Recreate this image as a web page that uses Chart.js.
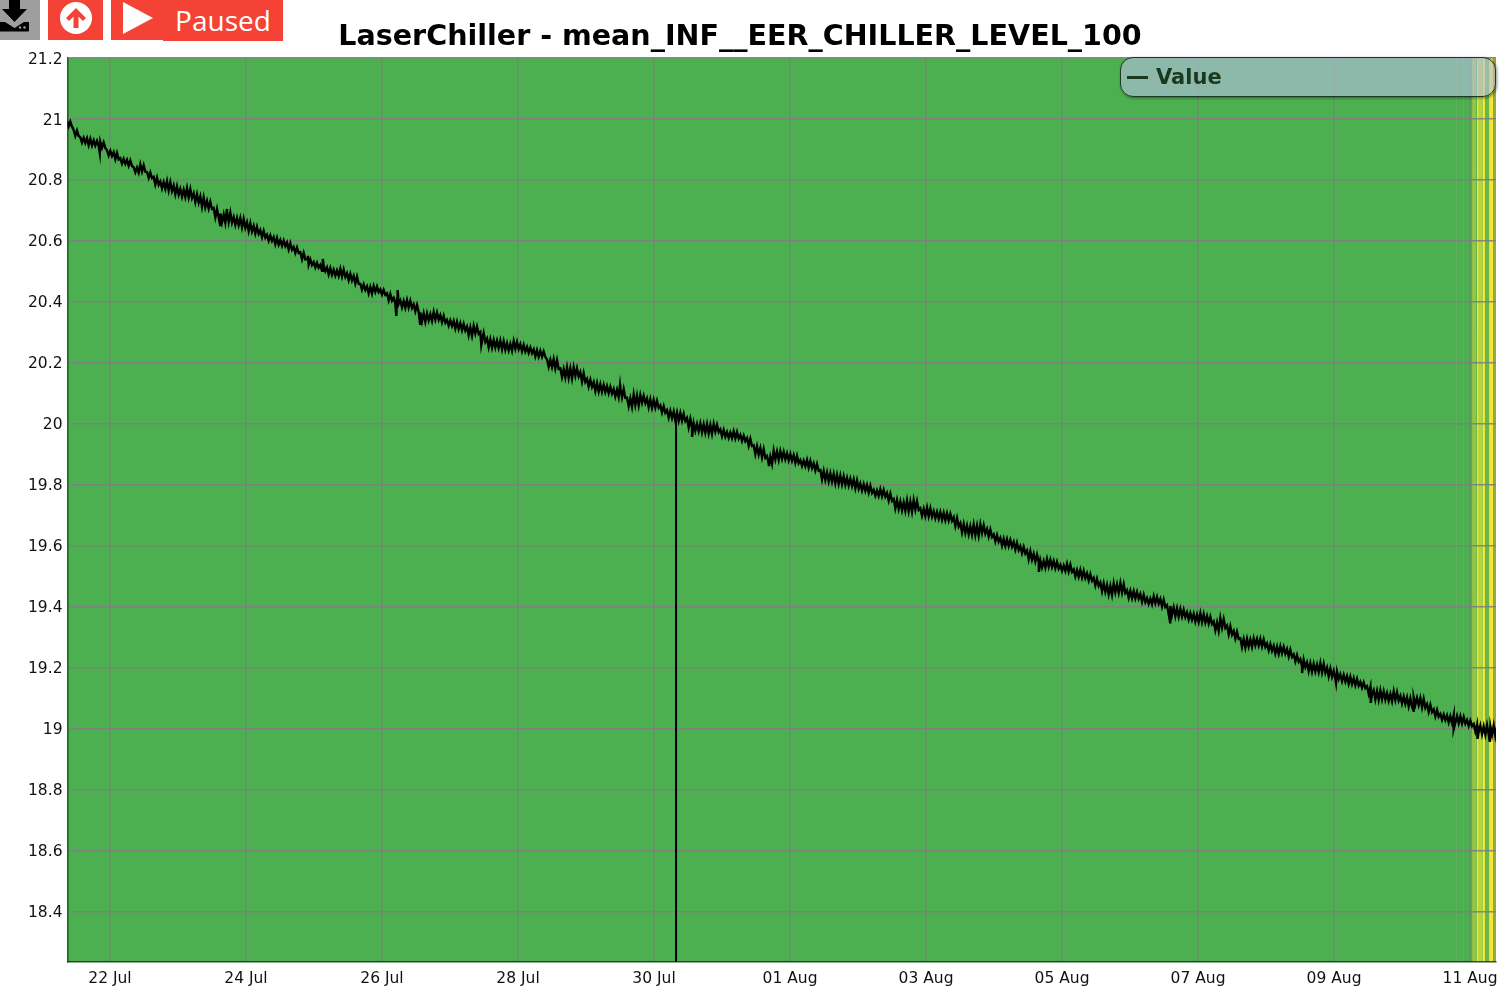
<!DOCTYPE html>
<html><head><meta charset="utf-8">
<script src="https://cdn.jsdelivr.net/npm/chart.js@4"></script>
<style>
html,body{margin:0;padding:0;background:#fff;width:1507px;height:1006px;overflow:hidden;font-family:"DejaVu Sans",sans-serif}
#wrap{position:relative;width:1507px;height:1006px}
canvas{position:absolute;left:0;top:0}
.btn{position:absolute;top:0;height:40px}
#title{position:absolute;left:240px;width:1000px;top:15px;text-align:center;font:bold 28.55px "DejaVu Sans",sans-serif;color:#000;white-space:nowrap;line-height:41px}
#paused{position:absolute;left:163px;top:0;width:120px;height:41px;background:#f44336;color:#fff;font:28px/41px "Open Sans",sans-serif;text-align:center}
#legend{position:absolute;left:1120px;top:57px;width:374px;height:38px;border:1px solid #1c3a20;border-radius:13px;background:rgba(185,192,230,.6);box-shadow:1px 1px 3px rgba(0,0,0,.45);color:#1a3a20;font:bold 21px/39px "DejaVu Sans",sans-serif}
#legend i{position:absolute;left:6px;top:18px;width:21px;height:3px;background:#1a3a20}
#legend span{position:absolute;left:35px;top:0}
</style></head><body>
<div id="wrap">
<canvas id="c" width="1507" height="1006"></canvas>
<div class="btn" style="left:0;width:40px;background:#9e9e9e"><svg width="40" height="40"><path d="M9 0h11v9h7L14.500 22 2 9h7z" fill="#000"/><path d="M0 22h5l9.500 6 9.500-6h5v8.500a1 1 0 0 1-1 1H0z" fill="#000"/><circle cx="20" cy="27.500" r="1.200" fill="#9e9e9e"/><circle cx="24.500" cy="27.500" r="1.200" fill="#9e9e9e"/></svg></div>
<div class="btn" style="left:48px;width:55px;background:#f44336"><svg width="55" height="40"><circle cx="28" cy="18" r="16" fill="#fff"/><path d="M28 8l-10 10 3 3 4.500-4.500V28h5V16.500L35 21l3-3z" fill="#f44336"/></svg></div>
<div class="btn" style="left:111px;width:60px;background:#f44336"><svg width="60" height="40"><path d="M12 2l30 16-30 16z" fill="#fff"/></svg></div>
<div id="paused">Paused</div>
<div id="title">LaserChiller - mean_INF__EER_CHILLER_LEVEL_100</div>
<div id="legend"><i></i><span>Value</span></div>
</div>
<script>
// Axis
const xTickDays = [0,2,4,6,8,10,12,14,16,18,20];
const xTickLabels = ['22 Jul','24 Jul','26 Jul','28 Jul','30 Jul','01 Aug','03 Aug','05 Aug','07 Aug','09 Aug','11 Aug'];
const yTicks = [18.4,18.6,18.8,19,19.2,19.4,19.6,19.8,20,20.2,20.4,20.6,20.8,21,21.2];
const xMin = -0.625, xMax = 20.382, yMin = 18.234, yMax = 21.2018;

// Trace centre, one reading about every 2.35 h
const firstSampleDay = -0.6324, sampleStep = 0.09804;
const traceCentre = [
20.984,20.954,20.931,20.925,20.921,20.915,20.888,20.879,20.862,20.856,20.833,20.839,20.816,20.797,20.783,20.780,20.767,20.757,20.757,20.741,20.728,20.718,20.692,20.675,20.678,20.665,20.659,20.646,20.636,20.623,20.610,20.600,20.593,20.583,20.570,20.551,
20.531,20.521,20.511,20.501,20.495,20.495,20.482,20.472,20.449,20.439,20.442,20.432,20.416,20.403,20.393,20.393,20.380,20.350,20.350,20.354,20.344,20.331,20.324,20.318,20.304,20.308,20.285,20.265,20.262,20.258,20.252,20.258,20.249,20.242,20.232,20.229,
20.199,20.196,20.167,20.167,20.170,20.153,20.134,20.121,20.117,20.111,20.101,20.101,20.071,20.078,20.081,20.068,20.065,20.048,20.032,20.025,20.022,20.003,19.989,19.986,19.983,19.986,19.970,19.963,19.963,19.953,19.940,19.914,19.904,19.881,19.897,19.897,
19.891,19.884,19.871,19.868,19.858,19.832,19.825,19.819,19.815,19.809,19.802,19.792,19.786,19.773,19.773,19.760,19.737,19.730,19.730,19.733,19.710,19.710,19.701,19.697,19.694,19.678,19.658,19.651,19.651,19.655,19.642,19.625,19.612,19.609,19.599,19.586,
19.569,19.560,19.540,19.543,19.537,19.527,19.527,19.510,19.507,19.497,19.481,19.464,19.455,19.461,19.461,19.441,19.438,19.428,19.418,19.422,19.412,19.389,19.382,19.379,19.369,19.363,19.363,19.356,19.336,19.346,19.323,19.307,19.281,19.281,19.284,19.281,
19.267,19.258,19.258,19.248,19.231,19.215,19.202,19.199,19.199,19.185,19.176,19.166,19.159,19.153,19.143,19.126,19.110,19.110,19.103,19.107,19.094,19.087,19.090,19.084,19.067,19.051,19.038,19.031,19.031,19.028,19.018,19.002,18.995,18.995,18.992];

// Half-thickness of the noisy band at each reading, in thousandths of a unit
const traceSwing = [
9,10,9,12,9,10,9,12,9,10,9,12,10,13,12,16,15,13,16,15,18,13,16,15,18,13,16,15,13,12,10,12,10,12,10,12,
10,9,10,12,10,13,12,13,10,12,10,9,12,10,12,13,12,15,12,13,12,10,13,12,15,13,16,15,13,15,12,13,12,10,12,10,
13,16,15,18,15,16,13,15,13,12,13,16,15,18,13,15,13,12,13,15,13,16,13,15,16,13,12,10,12,10,13,15,16,13,15,13,
12,13,10,13,12,16,15,16,15,13,15,12,13,10,12,13,16,15,18,16,13,15,12,13,12,15,16,15,18,15,13,12,13,12,13,12,
15,13,12,13,12,10,13,12,13,12,13,15,16,15,16,13,12,13,10,12,13,16,15,13,12,13,15,13,15,16,15,13,15,13,12,13,
12,13,12,13,12,13,15,13,16,15,13,12,13,12,10,13,16,15,13,15,13,15,13,16,13,12,10,12,13,12,10,13,15,16,18];
// How far each of the four sub-readings sits towards the band's edge
const swingPattern = [1,-0.9,0.8,-1];

// Isolated excursions: [day after 22 Jul, value]
const spikeDays   = [-0.15,1.62,1.72,2.91,3.13,4.21,4.23,4.56,5.46,7.50,8.56,9.69,13.66,15.59,17.53,18.03,18.54,19.17,19.76,20.11,20.29];
const spikeValues = [20.888,20.652,20.705,20.551,20.541,20.354,20.439,20.328,20.258,20.127,19.957,19.861,19.514,19.349,19.182,19.150,19.084,19.058,18.998,18.966,18.956];
// The single dropout on 30 Jul, running off the bottom of the plot
const dropoutDay = 8.324, dropoutFrom = 20.012, dropoutTo = 17.9;

// Status bands behind the trace
const baseGreen = '#4caf50';
const bandStarts = [19.79,19.89,20.03,20.09,20.10,20.13,20.19,20.22,20.28,20.34];
const bandEnds   = [19.81,19.91,20.09,20.10,20.13,20.19,20.22,20.28,20.34,20.382];
const bandColours = ['#5cb357','#5cb357','#98c444','#c4d63f','#f2e636','#b5d43f','#f5e838','#68b64e','#f3e638','#9aa83c'];

const tracePoints = [];
traceCentre.forEach((c,i)=>{
  const d = firstSampleDay + sampleStep*i, s = traceSwing[i]/1000;
  swingPattern.forEach((p,k)=>tracePoints.push({x:d+sampleStep*k/swingPattern.length,y:c+s*p}));
});
spikeDays.forEach((d,i)=>tracePoints.push({x:d,y:spikeValues[i]}));
tracePoints.sort((a,b)=>a.x-b.x);

const bandSet = (a,b,colour)=>({type:'line',data:[{x:a,y:yMax},{x:b,y:yMax}],fill:'start',backgroundColor:colour,borderWidth:0,pointRadius:0,tension:0});

new Chart(document.getElementById('c'),{
  type:'line',
  data:{datasets:[
    {label:'Value',data:tracePoints,borderColor:'#000',borderWidth:2.4,borderJoinStyle:'miter',pointRadius:0,fill:false,tension:0},
    {label:'Dropout',data:[{x:dropoutDay,y:dropoutFrom},{x:dropoutDay,y:dropoutTo}],borderColor:'#000',borderWidth:2,pointRadius:0,fill:false,tension:0},
    ...bandStarts.map((a,i)=>bandSet(a,bandEnds[i],bandColours[i])),
    bandSet(xMin,xMax,baseGreen)
  ]},
  options:{
    responsive:false,animation:false,devicePixelRatio:1,
    layout:{padding:{top:57.5,right:11,left:0,bottom:0}},
    plugins:{legend:{display:false},tooltip:{enabled:false},filler:{drawTime:'beforeDraw'}},
    scales:{
      x:{type:'linear',min:xMin,max:xMax,
        afterBuildTicks:s=>{s.ticks=xTickDays.map(v=>({value:v}))},
        afterFit:s=>{s.height=44},
        grid:{color:'rgba(128,128,128,.9)',lineWidth:1.5,drawTicks:false},
        border:{color:'rgba(20,60,20,.85)',width:1.5},
        ticks:{autoSkip:false,maxRotation:0,padding:8,color:'#111',font:{family:'"DejaVu Sans"',size:15.5},
          callback:v=>xTickLabels[xTickDays.indexOf(v)]}},
      y:{type:'linear',min:yMin,max:yMax,
        afterBuildTicks:s=>{s.ticks=yTicks.map(v=>({value:v}))},
        afterFit:s=>{s.width=67.5},
        grid:{color:'rgba(128,128,128,.9)',lineWidth:1.4,drawTicks:false},
        border:{color:'rgba(20,60,20,.85)',width:1.5},
        ticks:{autoSkip:false,padding:5,labelOffset:1.5,color:'#111',font:{family:'"DejaVu Sans"',size:15.5},
          callback:v=>String(v)}}
    }
  }
});
</script>
</body></html>
